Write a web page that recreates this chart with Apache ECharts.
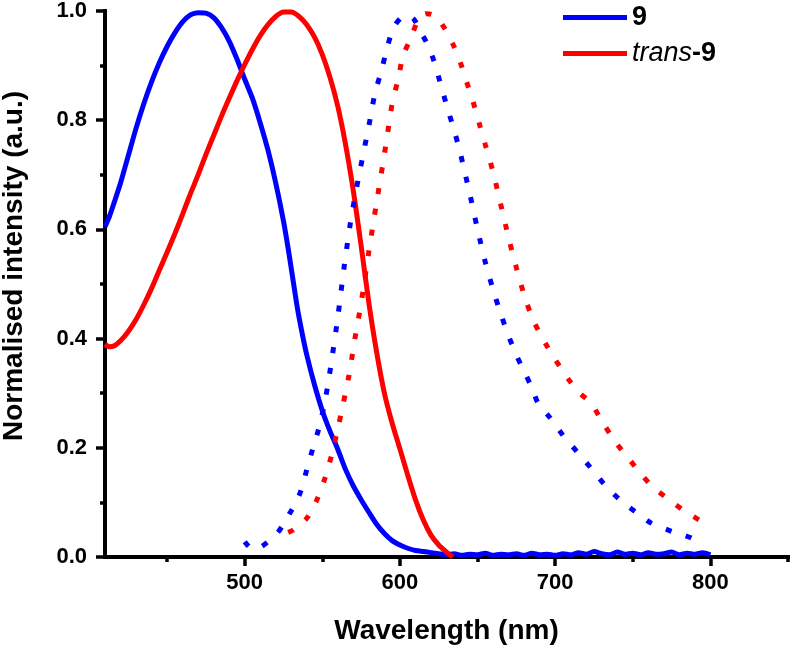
<!DOCTYPE html>
<html>
<head>
<meta charset="utf-8">
<script src="https://cdn.jsdelivr.net/npm/echarts@6/dist/echarts.min.js"></script>
<style>
html,body{margin:0;padding:0;background:#fff;}
#chart{width:794px;height:648px;}
</style>
</head>
<body>
<div id="chart"></div>
<script>
// ---- data ----
const absWl9 = [410,413,416,420,425,430,435,440,445,450,455,460,465,470,475,480,485,490,495,500,505,510,515,520,525,528,531,534,537,540,545,550,555,560,565,570,575,580,585,590,595,600,605,610,615,620,625,630,635,640,645,650,655,660,665,670,675,680,685,690,695,700,705,710,715,720,725,730,735,740,745,750,755,760,765,770,775,780,785,790,795,800];
const abs9 = [0.605,0.625,0.65,0.685,0.735,0.785,0.83,0.87,0.905,0.935,0.96,0.98,0.993,0.997,0.996,0.988,0.97,0.945,0.912,0.875,0.84,0.795,0.745,0.685,0.615,0.565,0.51,0.455,0.41,0.37,0.315,0.268,0.23,0.197,0.16,0.13,0.105,0.082,0.06,0.043,0.03,0.022,0.016,0.012,0.01,0.008,0.006,0.004,0.006,0.003,0.005,0.004,0.007,0.003,0.005,0.004,0.006,0.003,0.007,0.004,0.005,0.003,0.006,0.004,0.008,0.005,0.01,0.006,0.004,0.009,0.005,0.007,0.004,0.008,0.005,0.006,0.009,0.004,0.007,0.005,0.008,0.004];

const absWlT9 = [410,413,416,420,425,430,435,440,445,450,455,460,465,470,475,480,485,490,495,500,505,510,515,520,525,530,535,540,545,550,555,560,565,570,575,580,585,590,595,600,605,610,615,620,625,630,634];
const absT9 = [0.39,0.385,0.387,0.396,0.413,0.435,0.462,0.492,0.525,0.558,0.592,0.628,0.665,0.70,0.737,0.772,0.807,0.84,0.872,0.902,0.93,0.955,0.975,0.99,0.998,0.998,0.99,0.975,0.952,0.92,0.878,0.825,0.755,0.67,0.57,0.465,0.375,0.30,0.245,0.198,0.15,0.105,0.068,0.04,0.022,0.009,0.0];

const emWl9 = [500,505,510,515,521,525,529,533,536,540,544,548,552,556,560,564,568,572,576,580,584,588,592,596,601,605,609,613,617,622,626,630,634,638,645,650,655,660,665,670,675,680,685,689,697,705,715,723,732,742,753,762,776,789,794];
const em9 = [0.028,0.015,0.018,0.028,0.044,0.06,0.08,0.1,0.12,0.16,0.2,0.238,0.29,0.36,0.44,0.53,0.61,0.675,0.733,0.79,0.85,0.89,0.935,0.97,0.988,0.992,0.985,0.963,0.943,0.908,0.868,0.828,0.79,0.75,0.665,0.6,0.54,0.49,0.445,0.405,0.37,0.34,0.31,0.282,0.254,0.223,0.19,0.163,0.132,0.104,0.08,0.062,0.046,0.033,0.018];

const emWlT9 = [528,531,535,540,544,547,552,556,560,563,567,571,575,580,585,589,592,595,599,602,607,612,617,621,627,634,639,643,647,651,655,660,665,670,675,680,685,690,695,700,705,710,716,723,731,739,748,755,763,772,784,795,798];
const emT9 = [0.045,0.049,0.058,0.071,0.09,0.108,0.147,0.187,0.235,0.275,0.33,0.4,0.465,0.56,0.65,0.72,0.775,0.83,0.877,0.918,0.95,0.985,0.995,0.993,0.976,0.94,0.905,0.87,0.835,0.795,0.755,0.705,0.645,0.585,0.53,0.48,0.44,0.41,0.385,0.362,0.34,0.32,0.30,0.282,0.245,0.21,0.178,0.153,0.128,0.108,0.083,0.064,0.058];

const seriesNames = ['9', 'trans-9'];
const xMajorTicks = [500, 600, 700, 800];
const xMinorTicks = [450, 550, 650, 750, 850];
const xRange = [410, 850];
const yRange = [0, 1];
const yStep = 0.2;

// ---- chart ----
const pair = (xs, ys) => xs.map((x, i) => [x, ys[i]]);
const FONT = '"Liberation Sans", Arial, sans-serif';
const BLUE = '#0000ff', RED = '#ff0000';

const chart = echarts.init(document.getElementById('chart'), null, {renderer: 'canvas'});
chart.setOption({
  animation: false,
  backgroundColor: '#ffffff',
  textStyle: {fontFamily: FONT, color: '#000'},
  grid: {left: 105, right: 6, top: 11, bottom: 91, containLabel: false, outerBoundsMode: 'none'},
  legend: {
    data: seriesNames,
    orient: 'vertical',
    left: 558, top: -1,
    icon: 'rect',
    itemWidth: 64, itemHeight: 5, itemGap: 9,
    selectedMode: false,
    formatter: n => n === 'trans-9' ? '{i|trans}{b|-9}' : '{b|9}',
    textStyle: {
      fontFamily: FONT, color: '#000',
      rich: {
        b: {fontFamily: FONT, fontWeight: 'bold', fontSize: 27, lineHeight: 27, color: '#000'},
        i: {fontFamily: FONT, fontStyle: 'italic', fontSize: 27, lineHeight: 27, color: '#000'}
      }
    }
  },
  xAxis: [{
    type: 'value', min: xRange[0], max: xRange[1], position: 'bottom',
    name: 'Wavelength (nm)', nameLocation: 'middle', nameGap: 60, nameMoveOverlap: false,
    nameTextStyle: {fontFamily: FONT, fontWeight: 'bold', fontSize: 28, color: '#000'},
    axisLine: {onZero: false, lineStyle: {color: '#000', width: 4, cap: 'square'}},
    axisTick: {show: true, inside: false, length: 9, customValues: xMajorTicks, lineStyle: {color: '#000', width: 3.5}},
    axisLabel: {customValues: xMajorTicks, margin: 15, fontFamily: FONT, fontWeight: 'bold', fontSize: 22, color: '#000'},
    splitLine: {show: false}
  }, {
    type: 'value', min: xRange[0], max: xRange[1], position: 'bottom', gridIndex: 0,
    axisLine: {show: false, onZero: false},
    axisTick: {show: true, inside: false, length: 5, customValues: xMinorTicks, lineStyle: {color: '#000', width: 3.5}},
    axisLabel: {show: false},
    splitLine: {show: false}
  }],
  yAxis: {
    type: 'value', min: yRange[0], max: yRange[1], interval: yStep,
    name: 'Normalised intensity (a.u.)', nameLocation: 'middle', nameGap: 77, nameMoveOverlap: false,
    nameTextStyle: {fontFamily: FONT, fontWeight: 'bold', fontSize: 28, color: '#000', padding: [0, 0, 0, 36]},
    axisLine: {show: true, lineStyle: {color: '#000', width: 4, cap: 'square'}},
    axisTick: {show: true, inside: false, length: 9, lineStyle: {color: '#000', width: 3.5}},
    minorTick: {show: true, splitNumber: 2, length: 5, lineStyle: {color: '#000', width: 3.5}},
    axisLabel: {margin: 18, fontFamily: FONT, fontWeight: 'bold', fontSize: 22, color: '#000',
      formatter: v => v.toFixed(1)},
    splitLine: {show: false},
    minorSplitLine: {show: false}
  },
  series: [
    {name: seriesNames[0], type: 'line', xAxisIndex: 0, data: pair(absWl9, abs9), symbol: 'none', smooth: 0.25,
     lineStyle: {color: BLUE, width: 5}, itemStyle: {color: BLUE}, z: 2},
    {name: seriesNames[1], type: 'line', xAxisIndex: 0, data: pair(absWlT9, absT9), symbol: 'none', smooth: 0.3,
     lineStyle: {color: RED, width: 5}, itemStyle: {color: RED}, z: 3},
    {name: seriesNames[0], type: 'line', xAxisIndex: 0, data: pair(emWl9, em9), symbol: 'none', smooth: 0.3,
     lineStyle: {color: BLUE, width: 5, type: [6, 15]}, itemStyle: {color: BLUE}, z: 4},
    {name: seriesNames[1], type: 'line', xAxisIndex: 0, data: pair(emWlT9, emT9), symbol: 'none', smooth: 0.3,
     lineStyle: {color: RED, width: 5, type: [6, 15]}, itemStyle: {color: RED}, z: 5}
  ]
});
</script>
</body>
</html>
